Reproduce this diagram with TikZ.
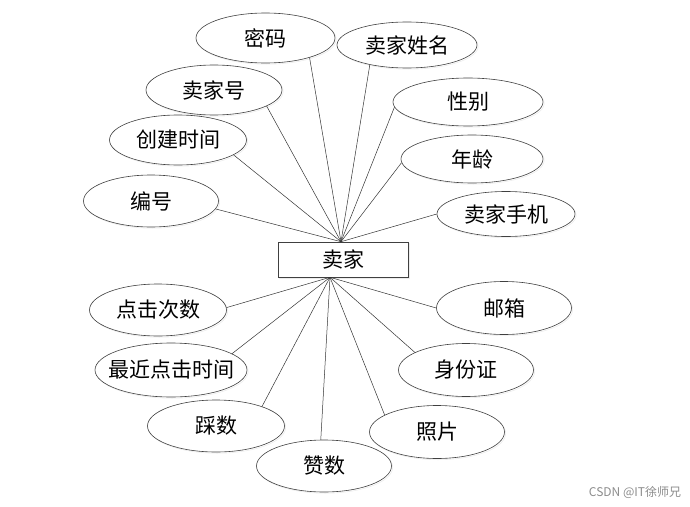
\documentclass[tikz,border=0pt]{standalone}
\usepackage{fontspec}
\newfontfamily\cjk{Noto Sans CJK SC}
\usetikzlibrary{shapes.geometric,shadows}

\begin{document}
\begin{tikzpicture}[
  x=1pt, y=-1pt,
  attr/.style={ellipse, draw=black!75, line width=0.6pt, fill=white,
    minimum width=137pt, minimum height=50pt, inner sep=0pt,
    font=\cjk\fontsize{21}{24}\selectfont,
    drop shadow={shadow xshift=1.2pt, shadow yshift=-1.2pt, fill=none, draw=black!15}},
  entity/.style={rectangle, draw=black!75, line width=0.6pt, fill=white,
    minimum width=130pt, minimum height=35pt, inner sep=0pt,
    font=\cjk\fontsize{21}{24}\selectfont,
    drop shadow={shadow xshift=1.2pt, shadow yshift=-1.2pt, fill=none, draw=black!15}},
  link/.style={draw=black!80, line width=0.5pt}
]
\useasboundingbox (0,0) rectangle (690,506);

% entity
\node[entity] (seller) at (343,259.5) {卖家};
\coordinate (hub up) at ([xshift=-2pt]seller.north);
\coordinate (hub down) at ([xshift=-13pt]seller.south);

% attributes above
\node[attr, minimum width=139pt] (pwd) at (265.5,38) {密码};
\node[attr, minimum width=140pt, minimum height=46pt] (sname) at (407,45) {卖家姓名};
\node[attr, minimum width=136pt] (sno) at (214,90) {卖家号};
\node[attr] (ctime) at (178,140) {创建时间};
\node[attr, minimum width=135pt, minimum height=52pt] (num) at (151,201) {编号};
\node[attr, minimum width=150pt, minimum height=48pt] (sex) at (468,102) {性别};
\node[attr, minimum width=142pt, minimum height=48pt] (age) at (472,159) {年龄};
\node[attr, minimum width=138pt, minimum height=45pt] (phone) at (506,214) {卖家手机};

% attributes below
\node[attr, minimum height=52pt] (clicks) at (158,310) {点击次数};
\node[attr, minimum width=152pt, minimum height=54pt] (lastclick) at (171,370) {\makebox[100pt][c]{最近点击时间}};
\node[attr, minimum height=52pt] (tread) at (216,426) {踩数};
\node[attr, minimum width=135pt, minimum height=52pt] (likes) at (324,466) {赞数};
\node[attr, minimum width=135pt, minimum height=53pt] (mail) at (504,308) {邮箱};
\node[attr, minimum width=135pt, minimum height=53pt] (idcard) at (466,370) {身份证};
\node[attr, minimum width=135pt, minimum height=53pt] (photo) at (437,432) {照片};

% connectors
\foreach \n/\a in {pwd/-24, sname/-152, sno/-17, ctime/-15, num/-7,
                   sex/-176, age/-177, phone/180}
  \draw[link] (hub up) -- (\n.\a);
\foreach \n/\a in {clicks/2, lastclick/15, tread/23, likes/97,
                   photo/162, idcard/161, mail/180}
  \draw[link] (hub down) -- (\n.\a);

% watermark
\node[font=\cjk\fontsize{12}{14}\selectfont, text=black!45, inner sep=0pt] (mark) at (635,492) {CSDN @IT徐师兄};
\end{tikzpicture}
\end{document}
